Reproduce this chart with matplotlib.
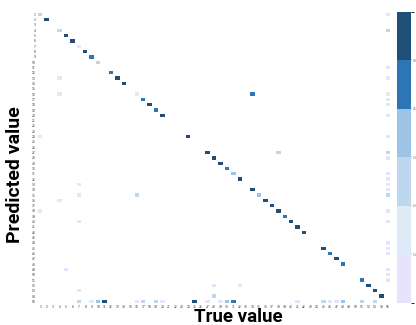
import numpy as np
import matplotlib
matplotlib.use("Agg")
import matplotlib.pyplot as plt
from matplotlib.colors import ListedColormap, BoundaryNorm

# class labels (55 classes, last one = background)
classes = [str(i) for i in range(1, 56)]

# non-zero cells of the normalised confusion matrix (row = predicted, col = true)
diag_idx = [0, 1, 3, 4, 5, 6, 7, 8, 9, 11, 12, 13, 15, 16, 17, 18, 19, 23, 26, 27,
            28, 29, 30, 31, 33, 34, 35, 36, 37, 38, 39, 40, 41, 44, 45, 46, 47,
            50, 51, 52, 53]
diag_val = [0.3, 0.9, 0.3, 0.9, 0.9, 0.15, 0.9, 0.7, 0.3, 0.7, 0.9, 0.9, 0.15, 0.7,
            0.9, 0.7, 0.9, 0.9, 0.9, 0.9, 0.9, 0.7, 0.5, 0.9, 0.9, 0.5, 0.9, 0.9,
            0.9, 0.7, 0.9, 0.9, 0.9, 0.9, 0.7, 0.9, 0.7, 0.7, 0.9, 0.9, 0.9]

off_rows = [12, 15, 23, 32, 34, 35, 37, 39, 48, 52, 51, 51, 53, 26, 34, 15]
off_cols = [3, 3, 0, 6, 6, 3, 0, 6, 4, 6, 27, 31, 27, 37, 15, 33]
off_vals = [0.15, 0.15, 0.15, 0.15, 0.15, 0.15, 0.15, 0.15, 0.05, 0.15, 0.05, 0.05,
            0.3, 0.3, 0.3, 0.7]

# last row: true class predicted as background
bg_row_cols = [6, 8, 9, 10, 15, 16, 18, 19, 24, 26, 28, 29, 30, 40, 44, 45, 46, 47, 50, 52]
bg_row_vals = [0.3, 0.15, 0.5, 0.9, 0.05, 0.3, 0.3, 0.05, 0.9, 0.05, 0.05, 0.5, 0.7,
               0.05, 0.3, 0.05, 0.05, 0.5, 0.3, 0.3]

# last column: background predicted as a class
bg_col_rows = [0, 3, 10, 12, 15, 16, 17, 19, 23, 26, 27, 30, 31, 32, 33, 34, 37, 39,
               43, 44, 45, 48, 49, 50]
bg_col_vals = [0.05, 0.3, 0.05, 0.15, 0.15, 0.15, 0.15, 0.05, 0.05, 0.3, 0.05, 0.05,
               0.05, 0.05, 0.05, 0.3, 0.05, 0.05, 0.05, 0.05, 0.05, 0.05, 0.05, 0.05]

bounds = [0.0, 0.1, 0.2, 0.4, 0.6, 0.8, 1.0]
colores = ["#e6e4fa", "#deebf7", "#bdd7ee", "#9dc3e6", "#2e75b6", "#1f4e79"]

n = len(classes)
cm = np.zeros((n, n))
cm[diag_idx, diag_idx] = diag_val
cm[off_rows, off_cols] = off_vals
cm[n - 1, bg_row_cols] = bg_row_vals
cm[bg_col_rows, n - 1] = bg_col_vals
cm = np.ma.masked_equal(cm, 0)

cmap = ListedColormap(colores)
cmap.set_bad("white")
norm = BoundaryNorm(bounds, cmap.N)

fig = plt.figure(figsize=(4.16, 3.25), dpi=100)
ax = fig.add_axes([37 / 416, 1 - 304 / 325, 354 / 416, 292.3 / 325])
cax = fig.add_axes([397 / 416, 1 - 303 / 325, 14 / 416, 291.3 / 325])

mesh = ax.pcolormesh(cm, cmap=cmap, norm=norm, edgecolors="white", linewidth=0.15)
ax.set_xlim(0, n)
ax.set_ylim(n, 0)
ax.set_xticks(np.arange(n) + 0.5)
ax.set_xticklabels(classes, fontsize=2.2, color="#333333")
ax.set_yticks(np.arange(n) + 0.5)
ax.set_yticklabels(classes, fontsize=2.2, color="#333333")
ax.tick_params(length=0, pad=0.8)
for s in ax.spines.values():
    s.set_visible(False)

cbar = fig.colorbar(mesh, cax=cax, ticks=bounds[1:-1], format="%.1f")
cbar.outline.set_visible(False)
cbar.ax.tick_params(labelsize=1.8, length=1, width=0.3, colors="#666666", pad=0.3)

fig.text(238 / 416, 2.5 / 325, "True value", ha="center", va="baseline",
         fontsize=13.5, fontweight="bold", family="Roboto")
fig.text(15 / 416, 1 - 175 / 325, "Predicted value", ha="center", va="center",
         rotation=90, fontsize=14, fontweight="bold", family="Roboto")

fig.savefig("out.png", dpi=100)
